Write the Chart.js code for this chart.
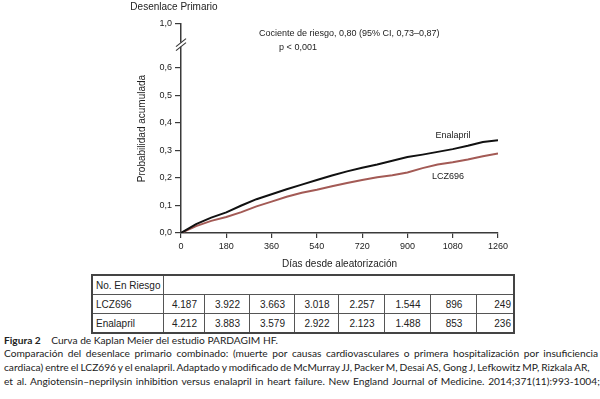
<!DOCTYPE html>
<html>
<head>
<meta charset="utf-8">
<script src="https://cdn.jsdelivr.net/npm/chart.js@4.4.0/dist/chart.umd.min.js"></script>
<style>
  html, body { margin: 0; padding: 0; background: #fff; width: 600px; height: 399px; overflow: hidden; }
  #wrap { position: relative; width: 600px; height: 399px; overflow: hidden; }
  #myChart { position: absolute; left: 0; top: 0; }
  table { position: absolute; left: 91px; top: 274px; border-collapse: collapse; table-layout: fixed;
          font-family: "Liberation Sans", Arial, sans-serif; font-size: 10px; color: #222; border: 2px solid #444; }
  td { border: 1px solid #555; height: 18px; padding: 0 3px; text-align: center; white-space: nowrap; }
  td.name { text-align: left; }
  td.last { text-align: right; padding-right: 2px; }
  .cap { position: absolute; left: 4px; white-space: nowrap; font-family: Lato, "DejaVu Sans Condensed", sans-serif;
         font-size: 10.2px; color: #222; }
</style>
</head>
<body>
<div id="wrap">
  <canvas id="myChart" width="600" height="270"></canvas>
  <table id="risk"></table>
  <div class="cap" style="top:334px"><b>Figura 2</b>&nbsp;&nbsp;&nbsp;&nbsp;Curva de Kaplan Meier del estudio PARDAGIM HF.</div>
  <div class="cap" style="top:347px; word-spacing:2px">Comparación del desenlace primario combinado: (muerte por causas cardiovasculares o primera hospitalización por insuficiencia cardiaca)</div>
  <div class="cap" style="top:361px; word-spacing:-0.6px">cardiaca) entre el LCZ696 y el enalapril. Adaptado y modificado de McMurray JJ, Packer M, Desai AS, Gong J, Lefkowitz MP, Rizkala AR,</div>
  <div class="cap" style="top:375px; word-spacing:1.1px">et al. Angiotensin–neprilysin inhibition versus enalapril in heart failure. New England Journal of Medicine. 2014;371(11):993-1004;</div>
</div>
<script>
// days since randomization and cumulative probability
const days = [0, 60, 120, 180, 240, 300, 360, 420, 480, 540, 600, 660, 720, 780, 840, 900, 960, 1020, 1080, 1140, 1200, 1260];
const enalapril = [0, 0.032, 0.056, 0.075, 0.100, 0.123, 0.141, 0.159, 0.176, 0.193, 0.209, 0.224, 0.237, 0.249, 0.263, 0.276, 0.285, 0.295, 0.305, 0.317, 0.331, 0.337];
const lcz696 = [0, 0.025, 0.044, 0.058, 0.076, 0.097, 0.114, 0.132, 0.146, 0.157, 0.170, 0.182, 0.193, 0.203, 0.210, 0.220, 0.236, 0.249, 0.257, 0.267, 0.279, 0.289];

const xTicks = [0, 180, 360, 540, 720, 900, 1080, 1260];
// top tick sits above the axis break, it stands for 1,0
const yTicks = [0, 0.1, 0.2, 0.3, 0.4, 0.5, 0.6, 0.76];
const yTickLabels = ['0,0', '0,1', '0,2', '0,3', '0,4', '0,5', '0,6', '1,0'];
const breakAt = 0.685;

// numbers at risk
const riskGroups = ['LCZ696', 'Enalapril'];
const riskLCZ = ['4.187', '3.922', '3.663', '3.018', '2.257', '1.544', '896', '249'];
const riskEna = ['4.212', '3.883', '3.579', '2.922', '2.123', '1.488', '853', '236'];

const colWidths = [71, 41, 45, 45, 44, 46, 46, 46, 37];
const table = document.getElementById('risk');
let html = '<colgroup>' + colWidths.map(w => '<col style="width:' + w + 'px">').join('') + '</colgroup>';
html += '<tr><td class="name">No. En Riesgo</td><td colspan="8"></td></tr>';
[riskLCZ, riskEna].forEach((row, i) => {
  html += '<tr><td class="name">' + riskGroups[i] + '</td>' +
    row.map((v, j) => '<td' + (j === row.length - 1 ? ' class="last"' : '') + '>' + v + '</td>').join('') + '</tr>';
});
table.innerHTML = html;

Chart.defaults.font.family = '"Liberation Sans", Arial, sans-serif';
Chart.defaults.color = '#333';

const axisColor = '#3a3a3a';

const annotations = {
  id: 'annotations',
  afterDraw(chart) {
    const {ctx, scales: {x, y}, chartArea} = chart;
    ctx.save();
    // axis break
    const by = y.getPixelForValue(breakAt);
    const ax = chartArea.left;
    ctx.fillStyle = '#fff';
    ctx.fillRect(ax - 2, by - 2, 4, 4);
    ctx.strokeStyle = axisColor;
    ctx.lineWidth = 1.2;
    [-2, 2].forEach(d => {
      ctx.beginPath();
      ctx.moveTo(ax - 5, by + d + 4);
      ctx.lineTo(ax + 5, by + d - 4);
      ctx.stroke();
    });

    ctx.fillStyle = '#222';
    ctx.textBaseline = 'middle';
    ctx.font = '10px "Liberation Sans", Arial, sans-serif';
    ctx.textAlign = 'center';
    ctx.fillText('Desenlace Primario', ax - 7, 7);

    ctx.font = '9px "Liberation Sans", Arial, sans-serif';
    ctx.textAlign = 'left';
    ctx.fillText('Cociente de riesgo, 0,80 (95% CI, 0,73–0,87)', x.getPixelForValue(310), y.getPixelForValue(0.727));
    ctx.fillText('p < 0,001', x.getPixelForValue(390), y.getPixelForValue(0.673));

    ctx.textAlign = 'center';
    ctx.fillText('Enalapril', x.getPixelForValue(1081), y.getPixelForValue(0.353));
    ctx.fillText('LCZ696', x.getPixelForValue(1061), y.getPixelForValue(0.204));
    ctx.restore();
  }
};

const ctx = document.getElementById('myChart').getContext('2d');
new Chart(ctx, {
  type: 'line',
  data: {
    labels: days,
    datasets: [
      {
        label: 'Enalapril',
        data: days.map((d, i) => ({x: d, y: enalapril[i]})),
        borderColor: '#111',
        borderWidth: 2,
        pointRadius: 0,
        tension: 0
      },
      {
        label: 'LCZ696',
        data: days.map((d, i) => ({x: d, y: lcz696[i]})),
        borderColor: '#a35a55',
        borderWidth: 2,
        pointRadius: 0,
        tension: 0
      }
    ]
  },
  options: {
    responsive: false,
    animation: false,
    devicePixelRatio: 1,
    layout: { padding: { left: 128, right: 102, top: 24, bottom: 0 } },
    plugins: { legend: { display: false }, tooltip: { enabled: false } },
    scales: {
      x: {
        type: 'linear',
        min: 0,
        max: 1260,
        afterBuildTicks: scale => { scale.ticks = xTicks.map(v => ({value: v})); },
        afterFit: scale => { scale.height = 37; scale.paddingLeft = 0; scale.paddingRight = 0; },
        ticks: { font: { size: 9 }, color: '#222', padding: 3, maxRotation: 0, callback: v => String(v) },
        grid: { drawOnChartArea: false, drawTicks: true, tickLength: 5, color: axisColor, lineWidth: 1.2 },
        border: { display: true, color: axisColor, width: 1.5 },
        title: { display: true, text: 'Días desde aleatorización', color: '#222', font: { size: 10 }, padding: { top: 0, bottom: 0 } }
      },
      y: {
        type: 'linear',
        min: 0,
        max: 0.76,
        afterBuildTicks: scale => { scale.ticks = yTicks.map(v => ({value: v})); },
        afterFit: scale => { scale.width = 53; scale.paddingTop = 0; scale.paddingBottom = 0; },
        ticks: { font: { size: 9 }, color: '#222', padding: 3, callback: (v, i) => yTickLabels[i] },
        grid: { drawOnChartArea: false, drawTicks: true, tickLength: 6, color: axisColor, lineWidth: 1.2 },
        border: { display: true, color: axisColor, width: 1.5 },
        title: { display: true, text: 'Probabilidad acumulada', color: '#222', font: { size: 10 }, padding: { top: 8, bottom: 0 } }
      }
    }
  },
  plugins: [annotations]
});
</script>
</body>
</html>
